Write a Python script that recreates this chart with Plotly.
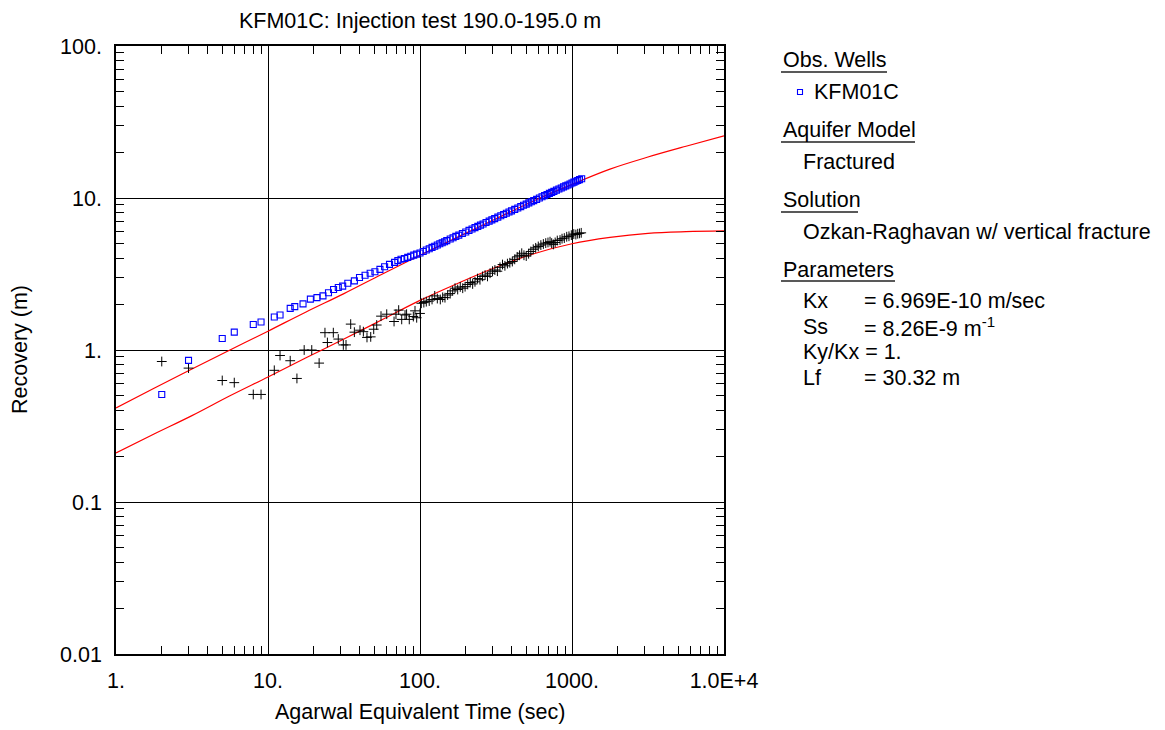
import plotly.graph_objects as go

# ---------------- data ----------------
obs_t = [2, 3, 5, 6, 8, 9, 11, 12, 14, 15,
         17, 19, 21, 23, 25, 27, 29, 31, 33.5, 37,
         40, 43.5, 47, 50.5, 54.5, 58.5, 63, 68, 71.5, 75,
         79, 83, 87, 91, 95,
         100, 105, 110, 115, 120, 125, 130, 135, 140, 145,
         150, 158, 165, 172, 180, 190, 200, 210, 220, 230,
         240, 250, 260, 272, 285, 297, 310, 325, 340, 355,
         370, 385, 400, 420, 440, 460, 480, 500, 520, 540,
         560, 585, 610, 635, 660, 685, 710, 735, 760, 790,
         820, 850, 880, 910, 940, 970, 1000, 1030, 1060, 1090,
         1120, 1158]
obs_v = [0.51, 0.855, 1.19, 1.31, 1.47, 1.53, 1.65, 1.70, 1.88, 1.93,
         2.01, 2.16, 2.21, 2.27, 2.38, 2.5, 2.58, 2.63, 2.75, 2.85,
         3.0, 3.1, 3.2, 3.27, 3.39, 3.53, 3.66, 3.77, 3.87, 3.95,
         4.0, 4.07, 4.14, 4.21, 4.27,
         4.35, 4.45, 4.55, 4.64, 4.73, 4.82, 4.91, 5.0, 5.08, 5.16,
         5.24, 5.37, 5.48, 5.59, 5.70, 5.84, 5.98, 6.12, 6.25, 6.38,
         6.51, 6.63, 6.75, 6.90, 7.04, 7.18, 7.32, 7.48, 7.64, 7.79,
         7.94, 8.09, 8.23, 8.42, 8.60, 8.78, 8.95, 9.12, 9.29, 9.45,
         9.61, 9.80, 9.99, 10.18, 10.36, 10.54, 10.72, 10.89, 11.06, 11.26,
         11.45, 11.64, 11.83, 12.01, 12.19, 12.37, 12.55, 12.72, 12.89, 13.05,
         13.2, 13.4]

deriv_t = [2, 3, 5, 6, 8, 9, 11, 12, 14, 15.5,
           17.3, 19.4, 21.7, 23.7, 24.6, 26.9, 29, 31.3, 32.6, 35,
           37, 40.3, 42.4, 44.8, 47.4, 49.6, 51.9, 55.4, 60.4, 67.5,
           69.5, 72.4, 75.8, 79.7, 81.6, 85, 90.4, 92.7, 95.1, 100,
           102, 106, 110, 115, 120, 125, 130, 136, 141, 146,
           152, 158, 164, 170, 177, 184, 191, 198, 206, 214,
           222, 230, 239, 248, 258, 268, 278, 289, 300, 311,
           323, 336, 349, 362, 376, 390, 405, 420, 436, 452,
           467, 483, 500, 518, 536, 556, 577, 600, 624, 648,
           672, 695, 717, 735, 754, 775, 800, 834, 860, 890,
           923, 955, 990, 1028, 1060, 1090, 1120, 1150]
deriv_v = [0.84, 0.76, 0.63, 0.61, 0.51, 0.51, 0.735, 0.92, 0.85, 0.65,
           1.0, 1.0, 0.82, 1.30, 1.12, 1.30, 1.18, 1.08, 1.08, 1.48,
           1.31, 1.35, 1.32, 1.21, 1.22, 1.37, 1.46, 1.67, 1.72, 1.54,
           1.72, 1.83, 1.59, 1.70, 1.72, 1.59, 1.66, 1.81, 1.63, 1.74,
           2.03, 2.05, 2.08, 2.1, 2.15, 2.27, 2.18, 2.15, 2.22, 2.21,
           2.3, 2.35, 2.45, 2.55, 2.5, 2.6, 2.55, 2.61, 2.7, 2.78,
           2.72, 2.81, 2.95, 2.9, 3.05, 3.11, 3.05, 3.2, 3.3, 3.36,
           3.3, 3.5, 3.65, 3.58, 3.7, 3.75, 3.82, 3.95, 4.1, 4.2,
           4.33, 4.2, 4.15, 4.3, 4.45, 4.6, 4.7, 4.8, 4.9, 4.98,
           5.05, 5.1, 5.16, 5.05, 4.95, 5.1, 5.25, 5.29, 5.4, 5.45,
           5.56, 5.6, 5.7, 5.79, 5.75, 5.82, 5.85, 5.9]

model_t = [1, 1.78, 3.16, 5.62, 10, 17.8, 31.6, 56.2, 100, 178, 316, 562,
           1000, 1778, 3162, 5623, 10000]
model_upper = [0.416, 0.56, 0.75, 1.0, 1.33, 1.78, 2.35, 3.15, 4.2, 5.55, 7.3,
               9.6, 12.3, 15.5, 18.6, 21.9, 25.6]
model_lower = [0.21, 0.28, 0.37, 0.50, 0.665, 0.89, 1.18, 1.58, 2.12, 2.75, 3.5,
               4.3, 5.0, 5.5, 5.85, 6.0, 6.07]

x_major = [1, 10, 100, 1000, 10000]
x_labels = ["1.", "10.", "100.", "1000.", "1.0E+4"]
y_major = [0.01, 0.1, 1, 10, 100]
y_labels = ["0.01", "0.1", "1.", "10.", "100."]

title_text = "KFM01C: Injection test 190.0-195.0 m"
x_title = "Agarwal Equivalent Time (sec)"
y_title = "Recovery (m)"

# ---------------- figure ----------------
FONT = "Arial, Liberation Sans, sans-serif"
FS = 21.5
OFF = 8  # the page body adds an 8px margin; compensate
W, H = 1165 - OFF, 730 - OFF
L, R, T, B = 116 - OFF, 724 - OFF, 46 - OFF, 654 - OFF
PW, PH = R - L, B - T


def px(xp):
    return (xp - OFF - L) / PW


def py(yp):
    return (B - (yp - OFF)) / PH


def minor_vals(majors):
    out = []
    for m in majors[:-1]:
        out += [m * k for k in range(2, 10)]
    return out


fig = go.Figure()
fig.add_trace(go.Scatter(x=model_t, y=model_upper, mode="lines",
                         line=dict(color="#ff0000", width=1.2, shape="spline"),
                         showlegend=False, hoverinfo="skip"))
fig.add_trace(go.Scatter(x=model_t, y=model_lower, mode="lines",
                         line=dict(color="#ff0000", width=1.2, shape="spline"),
                         showlegend=False, hoverinfo="skip"))
fig.add_trace(go.Scatter(x=deriv_t, y=deriv_v, mode="markers",
                         marker=dict(symbol="cross-thin", size=7,
                                     line=dict(color="black", width=1)),
                         showlegend=False))
fig.add_trace(go.Scatter(x=obs_t, y=obs_v, mode="markers",
                         marker=dict(symbol="square-open", size=6, color="#0000ff",
                                     line=dict(color="#0000ff", width=1.1)),
                         showlegend=False))

axis_common = dict(
    type="log", showline=True, linecolor="black", linewidth=1.5, mirror="ticks",
    ticks="inside", ticklen=8, tickcolor="black", tickwidth=1,
    showgrid=True, gridcolor="black", gridwidth=1, zeroline=False,
    tickfont=dict(family=FONT, size=FS, color="black"),
)

fig.update_xaxes(range=[0, 4], tickmode="array", tickvals=x_major, ticktext=x_labels,
                 ticklabelstandoff=6,
                 minor=dict(tickvals=minor_vals(x_major), ticks="inside", ticklen=8,
                            tickcolor="black", tickwidth=1, showgrid=False),
                 **axis_common)
fig.update_yaxes(range=[-2, 2], tickmode="array", tickvals=y_major, ticktext=y_labels,
                 ticklabelstandoff=8,
                 minor=dict(tickvals=minor_vals(y_major), ticks="inside", ticklen=8,
                            tickcolor="black", tickwidth=1, showgrid=False),
                 **axis_common)

annotations = []


def ann(text, xp, yp, xanchor="left", **kw):
    annotations.append(dict(text=text, x=px(xp), y=py(yp), xref="paper", yref="paper",
                            xanchor=xanchor, yanchor="middle", showarrow=False,
                            font=dict(family=FONT, size=FS, color="black"), **kw))


ann(x_title, 420, 712, xanchor="center")
ann(y_title, 20, 350, xanchor="center", textangle=-90)

ann("Obs. Wells", 781, 60)
ann("KFM01C", 812, 92)
ann("Aquifer Model", 781, 130)
ann("Fractured", 801, 162)
ann("Solution", 781, 200)
ann("Ozkan-Raghavan w/ vertical fracture", 801, 232)
ann("Parameters", 781, 270)
ann("Kx", 801, 301)
ann("= 6.969E-10 m/sec", 862, 301)
ann("Ss", 801, 327)
ann("= 8.26E-9 m<sup>-1</sup>", 862, 327)
ann("Ky/Kx = 1.", 801, 352)
ann("Lf", 801, 378)
ann("= 30.32 m", 862, 378)

shapes = []
for x0, x1, yy in [(781, 887, 72), (781, 915, 142), (781, 858, 212), (781, 895, 281)]:
    shapes.append(dict(type="line", xref="paper", yref="paper",
                       x0=px(x0), x1=px(x1), y0=py(yy), y1=py(yy),
                       line=dict(color="#222222", width=1.5)))
# legend marker (blue open square)
shapes.append(dict(type="rect", xref="paper", yref="paper",
                   x0=px(797.5), x1=px(802.5), y0=py(94.5), y1=py(89.5),
                   line=dict(color="#0000ff", width=1.1)))

fig.update_layout(
    width=W, height=H,
    margin=dict(l=L, r=W - R, t=T, b=H - B, pad=0),
    paper_bgcolor="white", plot_bgcolor="white",
    title=dict(text=title_text, x=0.5, xref="paper", y=1 - (20 - OFF) / H, yref="container",
               xanchor="center", yanchor="middle",
               font=dict(family=FONT, size=FS, color="black")),
    annotations=annotations, shapes=shapes,
    showlegend=False,
)

fig.write_html("out.html")
